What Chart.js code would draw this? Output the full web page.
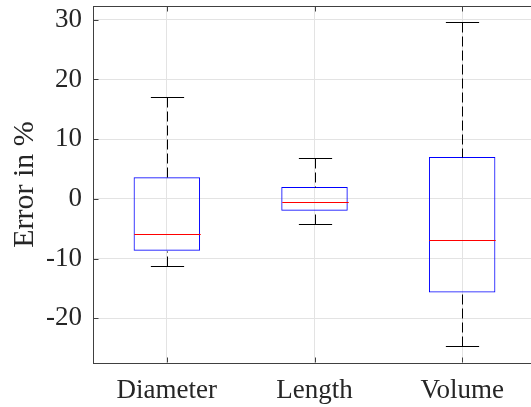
<!DOCTYPE html>
<html>
<head>
<meta charset="utf-8">
<title>Error box plot</title>
<script src="https://cdn.jsdelivr.net/npm/chart.js@4.4.1/dist/chart.umd.min.js"></script>
<style>
  html, body { margin: 0; padding: 0; overflow: hidden; background: #fff; }
  #wrap { width: 545px; height: 407px; }
</style>
</head>
<body>
<div id="wrap"><canvas id="boxChart"></canvas></div>
<script>
// --- DATA ---
const categories = ['Diameter', 'Length', 'Volume'];
const whiskerLow = [-11.2, -4.2, -24.7];
const quartileLow = [-8.7, -2.0, -15.7];
const medians = [-5.9, -0.45, -6.85];
const quartileHigh = [3.6, 2.0, 7.0];
const whiskerHigh = [17.0, 6.9, 29.6];
const yTicks = [-20, -10, 0, 10, 20, 30];

const fontFamily = "'Liberation Serif', 'Times New Roman', serif";
const axisColor = '#404040';
const gridColor = '#e3e3e3';

// --- whiskers, caps, medians and the axis frame ---
const boxExtras = {
    id: 'boxExtras',
    afterDatasetsDraw(chart) {
        const ctx = chart.ctx;
        const xs = chart.scales.x;
        const ys = chart.scales.y;
        const area = chart.chartArea;
        const bars = chart.getDatasetMeta(0).data;

        function seg(x1, y1, x2, y2) {
            ctx.beginPath();
            ctx.moveTo(x1, y1);
            ctx.lineTo(x2, y2);
            ctx.stroke();
        }

        ctx.save();
        ctx.lineWidth = 1;
        categories.forEach((c, i) => {
            const cx = Math.round(xs.getPixelForValue(i)) + 0.5;
            const half = bars[i].width / 2;
            const capHalf = half / 2;
            const py = v => Math.round(ys.getPixelForValue(v)) + 0.5;

            ctx.strokeStyle = '#000';
            ctx.setLineDash([10, 4]);
            seg(cx, py(whiskerHigh[i]), cx, py(quartileHigh[i]));
            seg(cx, py(whiskerLow[i]), cx, py(quartileLow[i]));
            ctx.setLineDash([]);
            seg(cx - capHalf, py(whiskerHigh[i]), cx + capHalf, py(whiskerHigh[i]));
            seg(cx - capHalf, py(whiskerLow[i]), cx + capHalf, py(whiskerLow[i]));

            ctx.strokeStyle = '#ff0000';
            seg(cx - half, py(medians[i]), cx + half, py(medians[i]));
        });

        // frame: top line and inward tick marks
        ctx.strokeStyle = axisColor;
        const top = Math.round(area.top) + 0.5;
        const bottom = Math.round(area.bottom) - 0.5;
        const left = Math.round(area.left) + 0.5;
        seg(area.left, top, area.right, top);
        categories.forEach((c, i) => {
            const cx = Math.round(xs.getPixelForValue(i)) + 0.5;
            seg(cx, bottom, cx, bottom - 5);
            seg(cx, top, cx, top + 5);
        });
        yTicks.forEach(v => {
            const y = Math.round(ys.getPixelForValue(v)) + 0.5;
            seg(left, y, left + 5, y);
        });
        ctx.restore();
    }
};

// --- CHART ---
const ctx = document.getElementById('boxChart').getContext('2d');
const boxChart = new Chart(ctx, {
    type: 'bar',
    data: {
        labels: categories,
        datasets: [{
            data: quartileLow.map((q, i) => [q, quartileHigh[i]]),
            backgroundColor: 'rgba(0,0,0,0)',
            borderColor: '#0000ff',
            borderWidth: 1,
            borderSkipped: false,
            categoryPercentage: 1,
            barPercentage: 0.45
        }]
    },
    options: {
        responsive: true,
        maintainAspectRatio: false,
        animation: false,
        layout: { padding: { top: 6, right: 9, left: 0, bottom: 0 } },
        plugins: {
            legend: { display: false },
            tooltip: { enabled: false }
        },
        scales: {
            x: {
                grid: { offset: false, color: gridColor, drawTicks: false },
                border: { color: axisColor, width: 1 },
                ticks: {
                    font: { family: fontFamily, size: 27 },
                    color: '#262626',
                    padding: 12,
                    maxRotation: 0
                },
                afterFit(scale) {
                    scale.height = 44;
                    scale.paddingLeft = 0;
                    scale.paddingRight = 0;
                }
            },
            y: {
                min: -27.5,
                max: 32.3,
                afterBuildTicks(scale) {
                    scale.ticks = yTicks.map(v => ({ value: v }));
                },
                grid: { color: gridColor, drawTicks: false },
                border: { color: axisColor, width: 1 },
                ticks: {
                    font: { family: fontFamily, size: 27 },
                    color: '#262626',
                    padding: 11
                },
                title: {
                    display: true,
                    text: 'Error in %',
                    font: { family: fontFamily, size: 30 },
                    color: '#262626',
                    padding: { top: 7, bottom: 0 }
                },
                afterFit(scale) {
                    scale.width = 93;
                    scale.paddingTop = 0;
                    scale.paddingBottom = 0;
                }
            }
        }
    },
    plugins: [boxExtras]
});
</script>
</body>
</html>
